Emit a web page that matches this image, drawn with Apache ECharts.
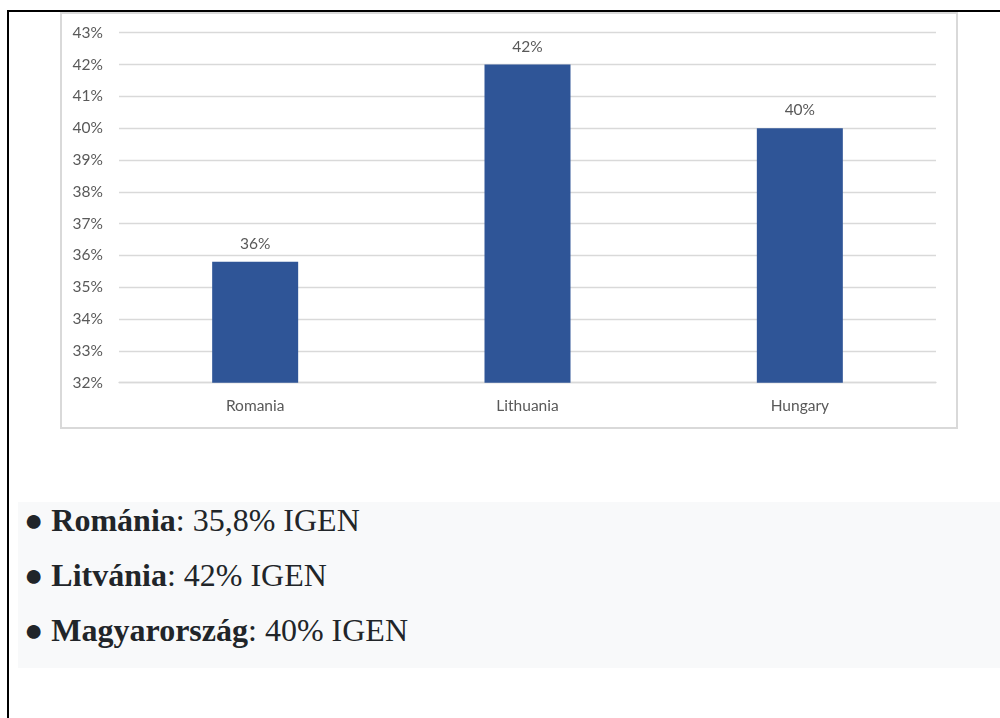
<!DOCTYPE html>
<html>
<head>
<meta charset="utf-8">
<script src="https://cdn.jsdelivr.net/npm/echarts@6/dist/echarts.min.js"></script>
<style>
  html, body { margin: 0; padding: 0; width: 1000px; height: 718px; overflow: hidden; background: #fff; }
  #frame { position: absolute; left: 7px; top: 10px; width: 1000px; height: 720px; border-top: 2px solid #000; border-left: 2px solid #000; box-sizing: border-box; }
  #chartBox { position: absolute; left: 60px; top: 12px; width: 898px; height: 417px; border: 2px solid #d9d9d9; box-sizing: border-box; background: #fff; }
  #chart { position: absolute; left: 0; top: 0; width: 1000px; height: 718px; }
  #grayBox { position: absolute; left: 18px; top: 502px; width: 990px; height: 166px; background: #f8f9fa; }
  #list { position: absolute; left: 24px; top: 493px; font-family: "Liberation Serif", "Times New Roman", serif; font-size: 32px; line-height: 55px; color: #212529; white-space: nowrap; }
</style>
</head>
<body>
<div id="frame"></div>
<div id="chartBox"></div>
<div id="grayBox"></div>
<div id="list"></div>
<div id="chart"></div>
<script>
var categories = ['Romania', 'Lithuania', 'Hungary'];
var values = [35.8, 42, 40];
var listNames = ['Románia', 'Litvánia', 'Magyarország'];
var listSuffix = 'IGEN';
var yTicksMin = 32, yTicksMax = 43, yTickStep = 1;

var listEl = document.getElementById('list');
listEl.innerHTML = listNames.map(function (n, i) {
  return '<div>\u25CF <b>' + n + '</b>: ' + String(values[i]).replace('.', ',') + '% ' + listSuffix + '</div>';
}).join('');

var chart = echarts.init(document.getElementById('chart'), null, { renderer: 'canvas' });
var labelFont = 'Lato, "Open Sans", sans-serif';
chart.setOption({
  backgroundColor: 'transparent',
  animation: false,
  grid: { left: 119, right: 64, top: 32.7, bottom: 335.3, containLabel: false },
  xAxis: {
    type: 'category',
    data: categories,
    axisLine: { show: true, lineStyle: { color: '#d9d9d9', width: 1.3 } },
    axisTick: { show: false },
    axisLabel: { color: '#595959', fontFamily: labelFont, fontSize: 15.5, margin: 15 }
  },
  yAxis: {
    type: 'value',
    min: yTicksMin, max: yTicksMax, interval: yTickStep,
    axisLine: { show: false },
    axisTick: { show: false },
    splitLine: { lineStyle: { color: '#d9d9d9', width: 1.3 } },
    axisLabel: { color: '#595959', fontFamily: labelFont, fontSize: 15.5, margin: 16, formatter: '{value}%' }
  },
  series: [{
    type: 'bar',
    data: values,
    barWidth: 86,
    itemStyle: { color: '#2F5597' },
    label: {
      show: true, position: 'top', distance: 10,
      color: '#595959', fontFamily: labelFont, fontSize: 15.5,
      formatter: function (p) { return Math.round(p.value) + '%'; }
    }
  }]
});
</script>
</body>
</html>
